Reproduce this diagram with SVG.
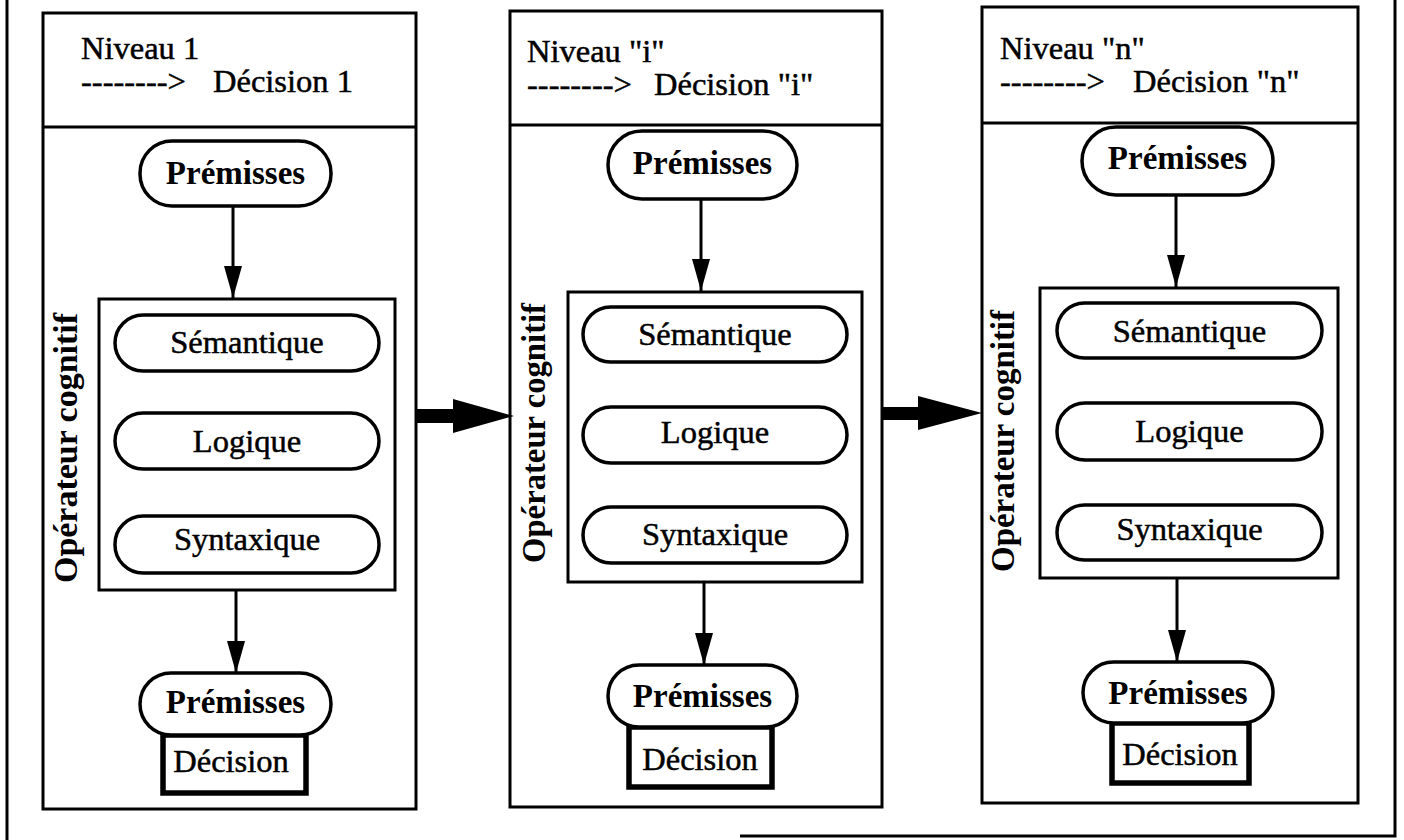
<svg xmlns="http://www.w3.org/2000/svg" width="1404" height="840" viewBox="0 0 1404 840">
<defs>
<style>
.frame{fill:none;stroke:#000;stroke-width:3}
.panel{fill:#fff;stroke:#000;stroke-width:3}
.pill{fill:#fff;stroke:#000;stroke-width:3.5}
.box{fill:#fff;stroke:#000;stroke-width:3}
.dec{fill:#fff;stroke:#000;stroke-width:5.5}
.t{font-family:"Liberation Serif","Times New Roman",serif;font-size:32.5px;fill:#000;stroke:#000;stroke-width:0.5}
.c{text-anchor:middle}
.b{font-family:"Liberation Serif","Times New Roman",serif;font-size:33px;font-weight:bold;fill:#000;text-anchor:middle}
.v{font-family:"Liberation Serif","Times New Roman",serif;font-size:33px;font-weight:bold;fill:#000}
.link{stroke:#000;stroke-width:3;fill:none;marker-end:url(#ah)}
.big{fill:#000;stroke:none}
</style>
<marker id="ah" markerUnits="userSpaceOnUse" markerWidth="32" markerHeight="18" refX="32" refY="9" orient="auto">
<path d="M0,0 L32,9 L0,18 z" fill="#000"/>
</marker>
</defs>
<rect width="1404" height="840" fill="#fff"/>
<path class="frame" d="M7,0 V840 M740,836 H1395 V0"/>

<g id="panel1">
<rect class="panel" x="43" y="13" width="373" height="796"/>
<line x1="43" y1="127" x2="416" y2="127" stroke="#000" stroke-width="3"/>
<text class="t"><tspan x="81" y="59">Niveau 1</tspan><tspan x="81" y="92">--------&gt;</tspan><tspan x="213" y="92">Décision 1</tspan></text>
</g>
<g id="premisses1">
<rect class="pill" x="140" y="141" width="191" height="65" rx="32"/>
<text class="b" x="235.5" y="184">Prémisses</text>
</g>
<g id="operateur1">
<rect class="box" x="99" y="299" width="296" height="291"/>
<text class="v" transform="translate(77,583) rotate(-90)" textLength="270" lengthAdjust="spacingAndGlyphs">Opérateur cognitif</text>
</g>
<g id="semantique1"><rect class="pill" x="115" y="315" width="264" height="56" rx="28"/><text class="t c" x="247" y="353">Sémantique</text></g>
<g id="logique1"><rect class="pill" x="115" y="413" width="264" height="56" rx="28"/><text class="t c" x="247" y="452">Logique</text></g>
<g id="syntaxique1"><rect class="pill" x="115" y="516" width="264" height="57" rx="28"/><text class="t c" x="247" y="550">Syntaxique</text></g>
<g id="decision1">
<rect class="dec" x="163" y="735" width="143" height="58"/>
<text class="t c" x="231" y="772">Décision</text>
</g>
<g id="premissesOut1">
<rect class="pill" x="140" y="673" width="191" height="62" rx="31"/>
<text class="b" x="235.5" y="713">Prémisses</text>
</g>

<g id="panel2">
<rect class="panel" x="510" y="11" width="372" height="796"/>
<line x1="510" y1="125" x2="882" y2="125" stroke="#000" stroke-width="3"/>
<text class="t"><tspan x="527" y="62">Niveau "i"</tspan><tspan x="527" y="95">--------&gt;</tspan><tspan x="654" y="95">Décision "i"</tspan></text>
</g>
<g id="premisses2">
<rect class="pill" x="608" y="131" width="189" height="68" rx="34"/>
<text class="b" x="702.5" y="174">Prémisses</text>
</g>
<g id="operateur2">
<rect class="box" x="568" y="292" width="294" height="290"/>
<text class="v" transform="translate(545,563) rotate(-90)" textLength="260" lengthAdjust="spacingAndGlyphs">Opérateur cognitif</text>
</g>
<g id="semantique2"><rect class="pill" x="583" y="307" width="264" height="55" rx="27.5"/><text class="t c" x="715" y="345">Sémantique</text></g>
<g id="logique2"><rect class="pill" x="583" y="407" width="264" height="56" rx="28"/><text class="t c" x="715" y="443">Logique</text></g>
<g id="syntaxique2"><rect class="pill" x="583" y="507" width="264" height="56" rx="28"/><text class="t c" x="715" y="545">Syntaxique</text></g>
<g id="decision2">
<rect class="dec" x="629" y="727" width="143" height="60"/>
<text class="t c" x="700" y="770">Décision</text>
</g>
<g id="premissesOut2">
<rect class="pill" x="608" y="665" width="189" height="62" rx="31"/>
<text class="b" x="702.5" y="707">Prémisses</text>
</g>

<g id="panel3">
<rect class="panel" x="982" y="7" width="376" height="796"/>
<line x1="982" y1="123" x2="1358" y2="123" stroke="#000" stroke-width="3"/>
<text class="t"><tspan x="1000" y="59">Niveau "n"</tspan><tspan x="1000" y="92">--------&gt;</tspan><tspan x="1133" y="92">Décision "n"</tspan></text>
</g>
<g id="premisses3">
<rect class="pill" x="1082" y="127" width="191" height="68" rx="34"/>
<text class="b" x="1177.5" y="169">Prémisses</text>
</g>
<g id="operateur3">
<rect class="box" x="1040" y="288" width="298" height="290"/>
<text class="v" transform="translate(1014,572) rotate(-90)" textLength="262" lengthAdjust="spacingAndGlyphs">Opérateur cognitif</text>
</g>
<g id="semantique3"><rect class="pill" x="1057" y="303" width="265" height="55" rx="27.5"/><text class="t c" x="1189.5" y="342">Sémantique</text></g>
<g id="logique3"><rect class="pill" x="1057" y="403" width="265" height="57" rx="28"/><text class="t c" x="1189.5" y="442">Logique</text></g>
<g id="syntaxique3"><rect class="pill" x="1057" y="505" width="265" height="55" rx="27.5"/><text class="t c" x="1189.5" y="540">Syntaxique</text></g>
<g id="decision3">
<rect class="dec" x="1112" y="723" width="137" height="60"/>
<text class="t c" x="1180" y="765">Décision</text>
</g>
<g id="premissesOut3">
<rect class="pill" x="1083" y="662" width="190" height="61" rx="30.5"/>
<text class="b" x="1178" y="704">Prémisses</text>
</g>

<g id="connectors">
<line class="link" x1="233" y1="206" x2="233" y2="298"/>
<line class="link" x1="236" y1="590" x2="236" y2="673"/>
<line class="link" x1="701" y1="199" x2="701" y2="291"/>
<line class="link" x1="704" y1="582" x2="704" y2="665"/>
<line class="link" x1="1176" y1="195" x2="1176" y2="287"/>
<line class="link" x1="1177" y1="578" x2="1177" y2="662"/>
<path class="big" d="M417,409 H453 V399 L514,416 L453,433 V423 H417 Z"/>
<path class="big" d="M883,407 H918 V396 L982,413 L918,430 V420 H883 Z"/>
</g>
</svg>
